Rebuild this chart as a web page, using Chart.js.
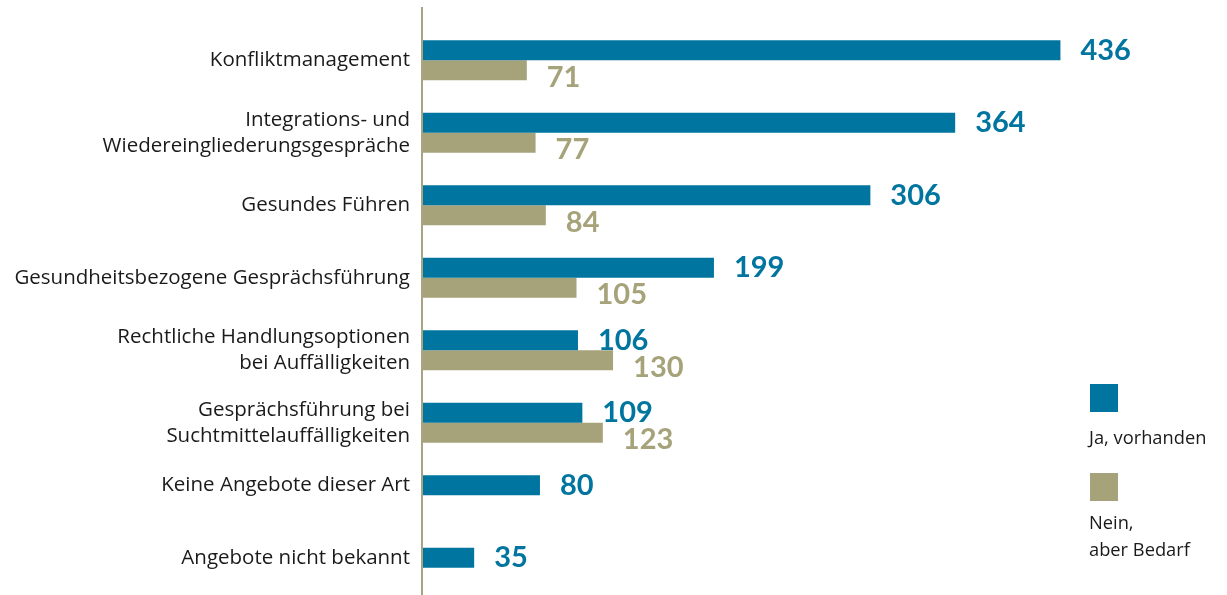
<!DOCTYPE html>
<html>
<head>
<meta charset="utf-8">
<script src="https://cdn.jsdelivr.net/npm/chart.js@4.4.1/dist/chart.umd.min.js"></script>
<style>
  html, body { margin: 0; padding: 0; background: #fff; overflow: hidden; width: 1227px; height: 595px; }
  #wrap { position: relative; width: 1227px; height: 604px; }
  #c { position: absolute; left: 0; top: 0; }
  .lg { position: absolute; font-family: "Open Sans", sans-serif; font-size: 18.3px; color: #1a1a1a; line-height: 27px; }
  .sw { position: absolute; width: 28px; height: 28px; }
</style>
</head>
<body>
<div id="wrap">
  <canvas id="c" width="1227" height="604"></canvas>
  <div class="sw" style="left:1090px; top:384px; background:#00759F;"></div>
  <div class="lg" style="left:1089px; top:423px;">Ja, vorhanden</div>
  <div class="sw" style="left:1090px; top:473px; background:#A6A27A;"></div>
  <div class="lg" style="left:1089px; top:508px;">Nein,<br>aber Bedarf</div>
</div>
<script>
const categories = [
  ["Konfliktmanagement"],
  ["Integrations- und", "Wiedereingliederungsgespräche"],
  ["Gesundes Führen"],
  ["Gesundheitsbezogene Gesprächsführung"],
  ["Rechtliche Handlungsoptionen", "bei Auffälligkeiten"],
  ["Gesprächsführung bei", "Suchtmittelauffälligkeiten"],
  ["Keine Angebote dieser Art"],
  ["Angebote nicht bekannt"]
];
const seriesNames = ["Ja, vorhanden", "Nein, aber Bedarf"];
const jaVorhanden = [436, 364, 306, 199, 106, 109, 80, 35];
const neinBedarf = [71, 77, 84, 105, 130, 123, null, null];

const BLUE = "#00759F";
const TAN = "#A6A27A";
const AXIS = "#A8A383";

const labelPlugin = {
  id: "customLabels",
  afterDatasetsDraw(chart) {
    const ctx = chart.ctx;
    const yScale = chart.scales.y;
    const m0 = chart.getDatasetMeta(0);
    const m1 = chart.getDatasetMeta(1);
    ctx.save();
    // axis line
    ctx.strokeStyle = AXIS;
    ctx.lineWidth = 2;
    ctx.beginPath();
    ctx.moveTo(chart.chartArea.left - 1, 7);
    ctx.lineTo(chart.chartArea.left - 1, chart.height);
    ctx.stroke();
    // category labels
    ctx.font = "20.5px 'Open Sans', sans-serif";
    ctx.fillStyle = "#1a1a1a";
    ctx.textAlign = "right";
    ctx.textBaseline = "middle";
    categories.forEach((lines, i) => {
      let cy = yScale.getPixelForTick(i);
      if (neinBedarf[i] === null) cy = m0.data[i].y;
      const lh = 26;
      const start = cy - (lines.length - 1) * lh / 2;
      lines.forEach((t, k) => ctx.fillText(t, chart.chartArea.left - 13, start + k * lh));
    });
    // value labels
    ctx.font = "bold 29px Lato, sans-serif";
    ctx.textAlign = "left";
    [[m0, jaVorhanden, BLUE, 0], [m1, neinBedarf, TAN, 7]].forEach(([meta, vals, col, dy]) => {
      ctx.fillStyle = col;
      meta.data.forEach((bar, i) => {
        if (vals[i] === null) return;
        ctx.fillText(String(vals[i]), bar.x + 20, bar.y + dy);
      });
    });
    ctx.restore();
  }
};

new Chart(document.getElementById("c"), {
  type: "bar",
  data: {
    labels: categories,
    datasets: [
      { label: seriesNames[0], data: jaVorhanden, backgroundColor: BLUE },
      { label: seriesNames[1], data: neinBedarf, backgroundColor: TAN }
    ]
  },
  options: {
    indexAxis: "y",
    responsive: false,
    animation: false,
    events: [],
    categoryPercentage: 0.552,
    barPercentage: 1,
    layout: { padding: { top: 24, bottom: 0, left: 0, right: 73 } },
    plugins: { legend: { display: false }, tooltip: { enabled: false } },
    scales: {
      x: { display: false, min: 0, max: 500 },
      y: {
        grid: { display: false },
        border: { display: false },
        ticks: { display: false },
        afterFit(scale) { scale.width = 423; }
      }
    }
  },
  plugins: [labelPlugin]
});
</script>
</body>
</html>
